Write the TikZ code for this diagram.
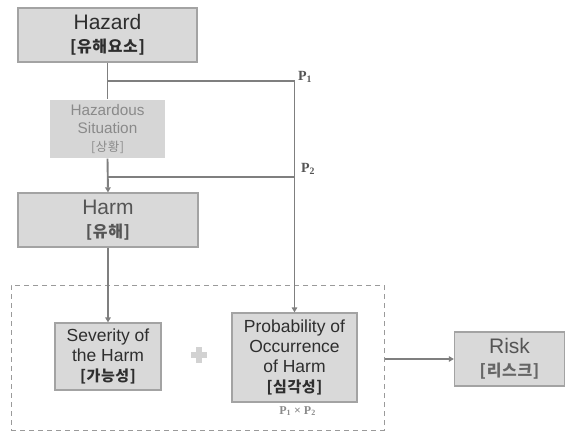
\documentclass[tikz,border=0pt]{standalone}
\usepackage{fontspec}
\setmainfont{Liberation Sans}
\newfontfamily\kr{Noto Sans CJK KR}[LetterSpace=4]
\newfontfamily\pser{Liberation Serif}
\usetikzlibrary{arrows.meta}
\definecolor{boxfill}{HTML}{D9D9D9}
\definecolor{hsfill}{HTML}{D6D6D6}
\definecolor{boxline}{HTML}{A3A3A3}
\definecolor{linegray}{HTML}{7F7F7F}
\definecolor{dashgray}{HTML}{9A9A9A}
\definecolor{txtdark}{HTML}{2E2E2E}
\definecolor{txtmid}{HTML}{555555}
\definecolor{txtlight}{HTML}{8A8A8A}
\definecolor{plusgray}{HTML}{D2D2D2}
\begin{document}
\begin{tikzpicture}[x=1pt,y=-1pt,
  box/.style={draw=boxline, fill=boxfill, line width=1.2pt, inner sep=0pt, align=center, text=txtdark},
  conn/.style={draw=linegray, line width=1.9pt},
  arr/.style={conn, -{Triangle[length=5pt,width=5.5pt]}},
  plab/.style={font=\pser\bfseries\fontsize{14}{14}\selectfont, text=txtmid, inner sep=0pt},
  big/.style={font=\fontsize{21}{24}\selectfont},
  mid/.style={font=\fontsize{17.5}{20}\selectfont}]
\useasboundingbox (0,0) rectangle (565,431);

% dashed group
\node[draw=dashgray, line width=1pt, dash pattern=on 5pt off 4pt, minimum width=373pt, minimum height=145pt, inner sep=0pt] (group) at (197.5,357.5) {};

% boxes
\node[box, big, minimum width=179pt, minimum height=54pt] (hazard) at (107.5,35)
  {Hazard\\[-1pt]{\kr\bfseries\fontsize{16}{17}\selectfont [유해요소]}};
\node[box, draw=none, fill=hsfill, text=txtlight, font=\fontsize{15.3}{18}\selectfont, minimum width=115pt, minimum height=58pt] (hsit) at (107.5,129)
  {Hazardous\\Situation\\{\kr\fontsize{12.5}{15}\selectfont [상황]}};
\node[box, big, text=txtmid, minimum width=180pt, minimum height=54pt] (harm) at (108,220)
  {Harm\\[-1pt]{\kr\bfseries\fontsize{16}{17}\selectfont [유해]}};
\node[box, mid, minimum width=106pt, minimum height=67pt] (sev) at (108,356.5)
  {Severity of\\the Harm\\{\kr\bfseries\fontsize{15}{17}\selectfont [가능성]}};
\node[box, mid, minimum width=125pt, minimum height=89pt] (prob) at (294.5,357.5)
  {Probability of\\Occurrence\\of Harm\\{\kr\bfseries\fontsize{15}{17}\selectfont [심각성]}};
\node[box, big, text=txtmid, minimum width=110pt, minimum height=54pt] (risk) at (509.5,359)
  {Risk\\[-1pt]{\kr\bfseries\color{txtmid!90}\fontsize{16}{17}\selectfont [리스크]}};

% labels
\node[plab] (p1) at (305,77) {P\textsubscript{1}};
\node[plab] (p2) at (308,169) {P\textsubscript{2}};
\node[plab, text=txtlight, font=\pser\bfseries\fontsize{12}{12}\selectfont] (p12) at (297.5,411) {P\textsubscript{1} × P\textsubscript{2}};

% plus sign
\fill[plusgray] (191,352) rectangle (207,358);
\fill[plusgray] (196,347) rectangle (202,363);

% connectors
\coordinate (p1s) at (108,81);
\coordinate (p2s) at (108,177);
\coordinate (p2e) at (294.5,177);
\draw[conn] (hazard.south) -- (hsit.north);
\draw[arr] (hsit.south) -- (harm.north);
\draw[arr] (harm.south) -- (sev.north);
\draw[arr] (p1s) -| (prob.north);
\draw[conn] (p2s) -- (p2e);
\draw[arr] (group.east |- risk.west) -- (risk.west);
\end{tikzpicture}
\end{document}
